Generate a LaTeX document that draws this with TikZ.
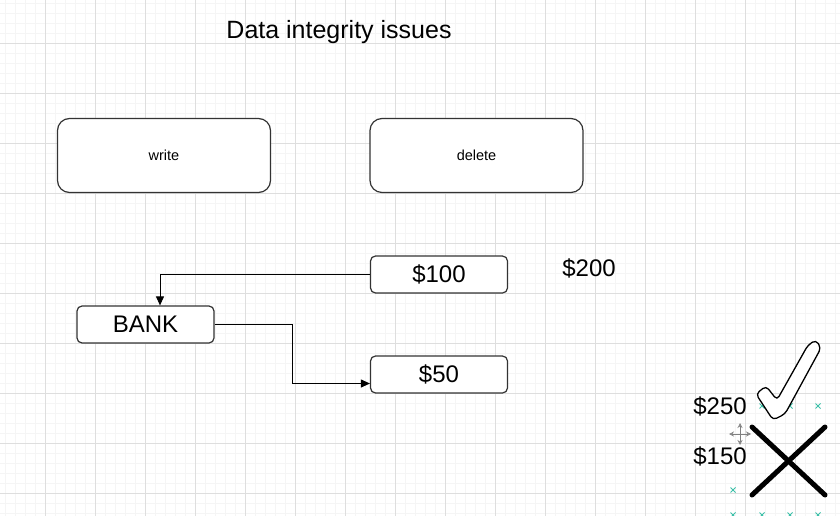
\documentclass[tikz,border=0pt]{standalone}
\usepackage{fontspec}
\setmainfont{Liberation Sans}
\usepackage{tikz}
\usetikzlibrary{positioning,arrows.meta}
\usepackage{xcolor}
\definecolor{gridmajor}{HTML}{DEDEDE}
\definecolor{gridminor}{HTML}{F5F5F5}
\definecolor{handlecol}{HTML}{3CC0A8}
\definecolor{boxline}{HTML}{333333}

\tikzset{
  opbox/.style={draw=boxline, line width=1.2pt, rounded corners=12pt, fill=white,
    minimum width=213pt, minimum height=74pt, inner sep=0pt,
    font=\fontsize{14.5}{17}\selectfont},
  valbox/.style={draw=boxline, line width=1.2pt, rounded corners=5pt, fill=white,
    minimum width=137pt, minimum height=37pt, inner sep=0pt,
    font=\fontsize{24}{28}\selectfont},
  bigtxt/.style={inner sep=0pt, font=\fontsize{24}{28}\selectfont},
  flow/.style={line width=1pt, -{Triangle[length=9pt,width=8pt]}},
  handle/.style={handlecol, line width=0.9pt}
}

\begin{document}
\begin{tikzpicture}[x=1pt, y=-1pt]
\useasboundingbox (0,0) rectangle (840,516);

% Raster
\foreach \gx in {5,15,...,835} \draw[gridminor, line width=0.6pt] (\gx,0) -- (\gx,516);
\foreach \gy in {3,13,...,513} \draw[gridminor, line width=0.6pt] (0,\gy) -- (840,\gy);
\foreach \gx in {45,95,...,795} \draw[gridmajor, line width=0.8pt] (\gx,0) -- (\gx,516);
\foreach \gy in {43,93,...,493} \draw[gridmajor, line width=0.8pt] (0,\gy) -- (840,\gy);

% Titel
\node[bigtxt, font=\fontsize{25}{29}\selectfont] (title) at (339,32) {Data integrity issues};

% Operationen
\node[opbox] (write) at (164,155.5) {write};
\node[opbox] (delete) at (476.5,155.5) {delete};

% Konto und Betraege
\node[valbox] (n100) at (439,274.5) {\$100};
\node[valbox] (bank) at (145.5,324.5) {BANK};
\node[valbox] (n50) at (439,374.5) {\$50};
\node[bigtxt] (n200) at (589,268) {\$200};

\draw[flow] (n100.west) -| ([xshift=14.5pt]bank.north);
\draw[flow] (bank.east) -- ++(78,0) |- ([yshift=-9pt]n50.west);

% Ergebnisse
\node[bigtxt] (n250) at (720,406) {\$250};
\node[bigtxt] (n150) at (720,456) {\$150};

% Auswahlmarken
\foreach \hx/\hy in {762/406, 790/406, 818/406, 733/490, 733/515, 762/515, 790/515, 818/515}
  \draw[handle] (\hx,\hy) +(-2.5,-2.5) -- +(2.5,2.5) +(-2.5,2.5) -- +(2.5,-2.5);

% Haken
\draw[line width=1.3pt, fill=white, rounded corners=4pt]
  (756,394) -- (766,386) -- (777,400) -- (808,345) -- (816,340) -- (821,348)
  -- (785,414) -- (773,420) -- cycle;

% Kreuz
\draw[line width=5pt, line cap=round] (752,427) -- (825,495);
\draw[line width=5pt, line cap=round] (825,427) -- (752,495);

% Verschiebe-Cursor
\draw[gray, line width=0.7pt, {Stealth[open,length=5pt,width=5pt]}-{Stealth[open,length=5pt,width=5pt]}] (729,434) -- (751,434);
\draw[gray, line width=0.7pt, {Stealth[open,length=5pt,width=5pt]}-{Stealth[open,length=5pt,width=5pt]}] (740,423) -- (740,445);
\end{tikzpicture}
\end{document}
